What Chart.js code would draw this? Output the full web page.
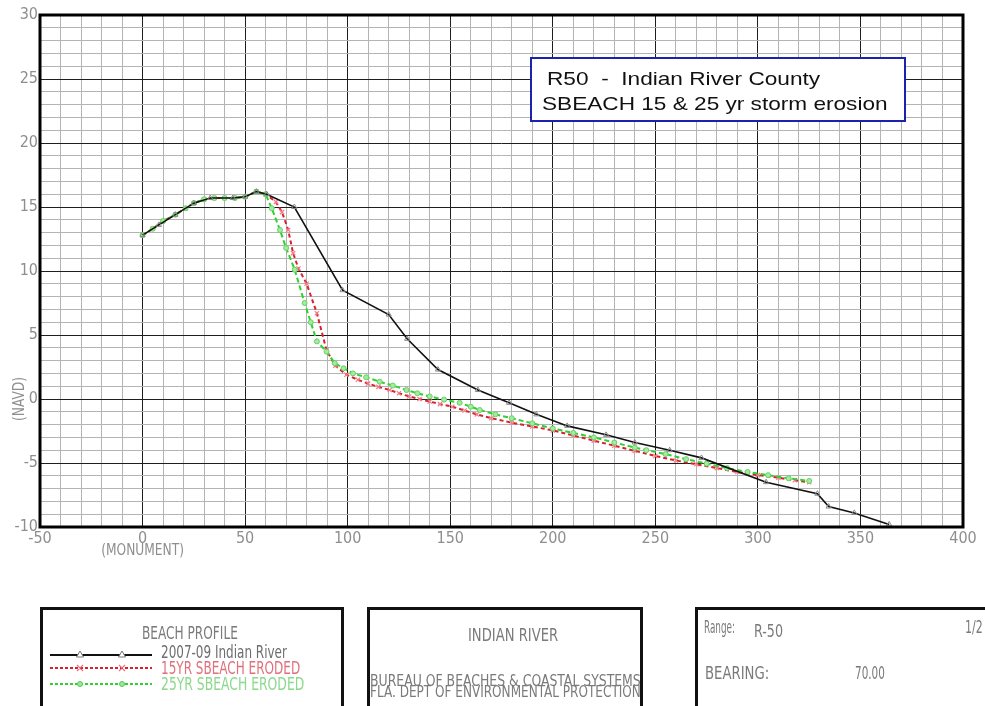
<!DOCTYPE html>
<html>
<head>
<meta charset="utf-8">
<script src="https://cdn.jsdelivr.net/npm/chart.js@4.4.1/dist/chart.umd.min.js"></script>
<style>
  body { margin: 0; background: #fff; width: 985px; height: 706px; overflow: hidden; position: relative; }
  #wrap { position: absolute; left: 0; top: 0; width: 985px; height: 706px; }
  .titlebox {
    position: absolute; left: 530px; top: 57px; width: 376px; height: 65px;
    box-sizing: border-box; border: 2px solid #1c22b0; background: #fff;
  }
  .panel { position: absolute; top: 607px; height: 130px; box-sizing: border-box; border: 3px solid #111; background: #fff; }
  .lbl {
    position: absolute; white-space: pre; transform-origin: 0 50%;
    font-family: 'Liberation Sans Narrow', 'DejaVu Sans Condensed', sans-serif; color: #7a7a7a;
  }
  .lbl.arial { font-family: 'Liberation Sans', Arial, sans-serif; }
  #legendsvg { position: absolute; left: 0; top: 0; }
</style>
</head>
<body>
<div id="wrap"><canvas id="profile" width="985" height="706"></canvas></div>

<div class="titlebox"></div>

<div class="panel" style="left:40px; width:304px;"></div>
<div class="panel" style="left:367px; width:276px;"></div>
<div class="panel" style="left:695px; width:310px;"></div>

<svg id="legendsvg" width="985" height="706">
  <line x1="50" y1="655" x2="152" y2="655" stroke="#111" stroke-width="2"/>
  <polygon points="80,651 76.5,657 83.5,657" fill="#fff" stroke="#777" stroke-width="1"/>
  <polygon points="122,651 118.5,657 125.5,657" fill="#fff" stroke="#777" stroke-width="1"/>
  <line x1="50" y1="668" x2="152" y2="668" stroke="#d8202e" stroke-width="2" stroke-dasharray="3,2"/>
  <path d="M77,665 L83,671 M83,665 L77,671 M119,665 L125,671 M125,665 L119,671" stroke="#f07080" stroke-width="1.2"/>
  <line x1="50" y1="684" x2="152" y2="684" stroke="#2ed12e" stroke-width="2" stroke-dasharray="3,2"/>
  <circle cx="80" cy="684" r="2.5" fill="#9be89b" stroke="#5c5" stroke-width="1"/>
  <circle cx="122" cy="684" r="2.5" fill="#9be89b" stroke="#5c5" stroke-width="1"/>
</svg>

<script>
// 2007-09 Indian River profile (black)
const profileX = [0, 8, 16, 25, 33, 44, 50, 55.5, 60.5, 74, 97.5, 120, 129, 144, 163.5, 178.7, 192, 207, 226, 240, 257, 272.5, 304, 329, 334.5, 347, 364];
const profileY = [12.8, 13.6, 14.4, 15.3, 15.7, 15.7, 15.8, 16.2, 16.0, 15.0, 8.5, 6.6, 4.7, 2.3, 0.7, -0.3, -1.2, -2.1, -2.8, -3.4, -4.0, -4.6, -6.5, -7.4, -8.4, -8.9, -9.8];

// 15YR SBEACH eroded (red)
const sb15X = [0, 5, 10, 16, 21, 25, 30, 35, 40, 45, 50, 55.5, 60, 65, 68, 71, 73.4, 76, 80, 85, 89.7, 94, 99.4, 105, 110, 115, 120.5, 125, 130, 135, 140, 145, 151, 157, 163, 170, 180, 190, 200, 210, 220, 230, 240, 250, 260, 270, 280, 290, 300, 310, 318, 325];
const sb15Y = [12.8, 13.3, 13.9, 14.4, 14.9, 15.3, 15.6, 15.7, 15.7, 15.7, 15.8, 16.2, 16.0, 15.4, 14.6, 13.2, 11.4, 10.2, 9.0, 6.7, 3.8, 2.6, 1.9, 1.5, 1.2, 0.95, 0.7, 0.45, 0.2, 0, -0.2, -0.4, -0.6, -0.9, -1.2, -1.5, -1.85, -2.15, -2.45, -2.85, -3.25, -3.65, -4.05, -4.45, -4.8, -5.1, -5.4, -5.7, -5.95, -6.15, -6.35, -6.5];

// 25YR SBEACH eroded (green)
const sb25X = [0, 5, 10, 16, 21, 25, 30, 35, 40, 45, 50, 55.5, 60, 63, 67, 70, 74.2, 79, 82, 85, 89.7, 93.7, 98, 102.6, 109, 115.6, 122, 128.7, 134, 140, 147, 154.6, 160, 164.4, 172, 180, 190, 200, 210, 220, 230, 240, 245.6, 255, 265, 275, 285, 295, 305, 315, 325];
const sb25Y = [12.8, 13.3, 13.9, 14.4, 14.9, 15.3, 15.6, 15.7, 15.7, 15.7, 15.8, 16.2, 16.0, 14.9, 13.2, 11.8, 10.1, 7.5, 6.0, 4.5, 3.7, 2.8, 2.4, 2.0, 1.7, 1.35, 1.05, 0.7, 0.45, 0.2, -0.05, -0.3, -0.6, -0.86, -1.2, -1.5, -1.9, -2.3, -2.65, -3.0, -3.4, -3.8, -4.0, -4.3, -4.7, -5.05, -5.4, -5.7, -5.95, -6.2, -6.4];

// axis ranges / labels
const xMin = -50, xMax = 400, xStep = 10, xLabelEvery = 50;
const yMin = -10, yMax = 30, yStep = 1, yLabelEvery = 5;
const xTitle = '(MONUMENT)';
const yTitle = '(NAVD)';

function pts(xs, ys) {
  return xs.map((x, i) => ({ x: x, y: ys[i] }));
}

const tickFont = { family: "'Liberation Sans Narrow', 'DejaVu Sans Condensed', sans-serif", size: 16 };
const gray = '#8e8e8e';

// kader + as-titels
const framePlugin = {
  id: 'frame',
  afterDraw(chart) {
    const { ctx, chartArea: a, scales } = chart;
    ctx.save();
    ctx.strokeStyle = '#000';
    ctx.lineWidth = 3;
    ctx.strokeRect(a.left, a.top, a.right - a.left, a.bottom - a.top);

    ctx.fillStyle = gray;
    ctx.font = "16px 'Liberation Sans Narrow', 'DejaVu Sans Condensed', sans-serif";
    ctx.textAlign = 'center';
    ctx.textBaseline = 'middle';

    ctx.save();
    ctx.translate(scales.x.getPixelForValue(0), a.bottom + 24);
    ctx.scale(0.85, 1);
    ctx.fillText(xTitle, 0, 0);
    ctx.restore();

    ctx.save();
    ctx.translate(20, scales.y.getPixelForValue(0));
    ctx.rotate(-Math.PI / 2);
    ctx.scale(0.85, 1);
    ctx.fillText(yTitle, 0, 0);
    ctx.restore();

    ctx.restore();
  }
};

new Chart(document.getElementById('profile'), {
  type: 'scatter',
  data: {
    datasets: [
      {
        label: '2007-09 Indian River',
        data: pts(profileX, profileY),
        showLine: true,
        borderColor: '#111',
        borderWidth: 1.6,
        pointStyle: 'triangle',
        pointRadius: 3,
        pointBorderColor: '#888',
        pointBackgroundColor: 'rgba(255,255,255,0)',
        pointBorderWidth: 1,
        order: 1
      },
      {
        label: '15YR SBEACH ERODED',
        data: pts(sb15X, sb15Y),
        showLine: true,
        borderColor: '#d8202e',
        borderWidth: 2,
        borderDash: [4, 3],
        pointStyle: 'crossRot',
        pointRadius: 3,
        pointBorderColor: '#f57a86',
        pointBorderWidth: 1.2,
        order: 3
      },
      {
        label: '25YR SBEACH ERODED',
        data: pts(sb25X, sb25Y),
        showLine: true,
        borderColor: '#2ed12e',
        borderWidth: 2,
        borderDash: [5, 3],
        pointStyle: 'circle',
        pointRadius: 2.5,
        pointBorderColor: '#66d066',
        pointBackgroundColor: '#a3ec9f',
        pointBorderWidth: 1,
        order: 2
      }
    ]
  },
  options: {
    responsive: false,
    animation: false,
    layout: { padding: { left: 0, top: 15, right: 22, bottom: 149 } },
    plugins: {
      legend: { display: false },
      tooltip: { enabled: false }
    },
    scales: {
      x: {
        type: 'linear',
        min: xMin, max: xMax,
        afterFit: (s) => { s.height = 30; },
        border: { display: false },
        grid: {
          drawTicks: false,
          color: (c) => (c.tick && c.tick.value % xLabelEvery === 0) ? '#1e1e1e' : '#b4b4b4',
          lineWidth: 1
        },
        ticks: {
          stepSize: xStep,
          autoSkip: false,
          maxRotation: 0,
          padding: 2,
          color: gray,
          font: tickFont,
          callback: (v) => (v % xLabelEvery === 0 ? String(v) : '')
        }
      },
      y: {
        type: 'linear',
        min: yMin, max: yMax,
        afterFit: (s) => { s.width = 40; },
        border: { display: false },
        grid: {
          drawTicks: false,
          color: (c) => (c.tick && c.tick.value % yLabelEvery === 0) ? '#1e1e1e' : '#b4b4b4',
          lineWidth: 1
        },
        ticks: {
          stepSize: yStep,
          autoSkip: false,
          padding: 2,
          color: gray,
          font: tickFont,
          callback: (v) => (v % yLabelEvery === 0 ? String(v) : '')
        }
      }
    }
  },
  plugins: [framePlugin]
});

// teksten: titelkader + kaders onderaan
const labels = [
  { t: 'R50  -  Indian River County', x: 547, cy: 78, w: 273, size: 19, color: '#111', cls: 'arial' },
  { t: 'SBEACH 15 & 25 yr storm erosion', x: 542, cy: 103, w: 345, size: 19, color: '#111', cls: 'arial' },
  { t: 'BEACH PROFILE', x: 142, cy: 633, w: 96, size: 18, color: '#7a7a7a' },
  { t: '2007-09 Indian River', x: 161, cy: 652, w: 126, size: 18, color: '#6e6e6e' },
  { t: '15YR SBEACH ERODED', x: 161, cy: 668, w: 139, size: 18, color: '#e0707c' },
  { t: '25YR SBEACH ERODED', x: 161, cy: 684, w: 143, size: 18, color: '#8cd88c' },
  { t: 'INDIAN RIVER', x: 468, cy: 635, w: 90, size: 18, color: '#7a7a7a' },
  { t: 'BUREAU OF BEACHES & COASTAL SYSTEMS', x: 370, cy: 681, w: 271, size: 15, color: '#7a7a7a' },
  { t: 'FLA. DEPT OF ENVIRONMENTAL PROTECTION', x: 370, cy: 692, w: 271, size: 15, color: '#7a7a7a' },
  { t: 'Range:', x: 704, cy: 627, w: 31, size: 18, color: '#7a7a7a' },
  { t: 'R-50', x: 754, cy: 631, w: 29, size: 18, color: '#7a7a7a' },
  { t: '1/2', x: 965, cy: 627, w: 18, size: 17, color: '#7a7a7a' },
  { t: 'BEARING:', x: 705, cy: 673, w: 64, size: 17, color: '#7a7a7a' },
  { t: '70.00', x: 855, cy: 673, w: 30, size: 17, color: '#7a7a7a' }
];

labels.forEach(l => {
  const el = document.createElement('div');
  el.className = 'lbl' + (l.cls ? ' ' + l.cls : '');
  el.textContent = l.t;
  el.style.left = l.x + 'px';
  el.style.top = (l.cy - l.size / 2) + 'px';
  el.style.fontSize = l.size + 'px';
  el.style.lineHeight = l.size + 'px';
  el.style.color = l.color;
  document.body.appendChild(el);
  const sx = l.w / el.offsetWidth;
  el.style.transform = 'scaleX(' + sx.toFixed(3) + ')';
});
</script>
</body>
</html>
